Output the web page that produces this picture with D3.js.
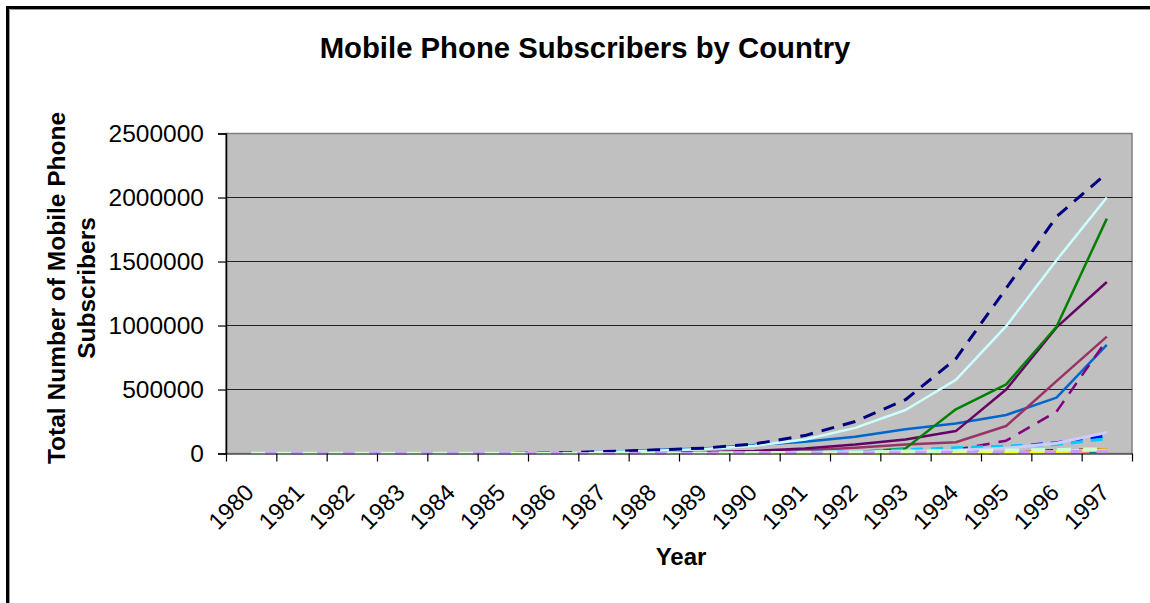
<!DOCTYPE html>
<meta charset="utf-8">
<style> /* set the CSS */

body { margin: 0; background: #fff; }

.line {
  fill: none;
  stroke-linejoin: round;
}

text { font-family: "Liberation Sans", Arial, sans-serif; fill: #000; }

</style>
<body>

<!-- load the d3.js library -->
<script src="https://d3js.org/d3.v7.min.js"></script>
<script>

// categories
var years = ["1980","1981","1982","1983","1984","1985","1986","1987","1988",
             "1989","1990","1991","1992","1993","1994","1995","1996","1997"];

// y tick labels
var yTicks = [0, 500000, 1000000, 1500000, 2000000, 2500000];

// series values, one per year
var navyDashed   = [0,0,0,0,0,0, 5000, 15000, 27000, 42000, 75000, 140000, 250000, 420000, 740000, 1290000, 1850000, 2190000];
var lightCyan    = [0,0,0,0,0,0, 4000, 12000, 22000, 35000, 60000, 110000, 200000, 340000, 575000, 995000, 1510000, 2000000];
var greenLine    = [0,0,0,0,0,0, 0, 0, 0, 0, 1000, 3000, 10000, 40000, 345000, 540000, 990000, 1835000];
var purpleLine   = [0,0,0,0,0,0, 0, 2000, 5000, 10000, 20000, 40000, 70000, 110000, 175000, 500000, 985000, 1340000];
var mauveLine    = [0,0,0,0,0,0, 0, 1000, 3000, 8000, 15000, 25000, 45000, 70000, 88000, 215000, 565000, 913000];
var blueLine     = [0,0,0,0,0,0, 3000, 12000, 27000, 40000, 66000, 92000, 131000, 189000, 235000, 301000, 436000, 848000];
var purpleDashed = [0,0,0,0,0,0, 0, 0, 0, 0, 1000, 2000, 5000, 10000, 30000, 100000, 327000, 887000];
var lavenderLine = [0,0,0,0,0,0, 0, 0, 1000, 2000, 5000, 8000, 12000, 18000, 25000, 42000, 80000, 165000];
var blueDashed   = [0,0,0,0,0,0, 0, 0, 0, 1000, 3000, 5000, 8000, 12000, 20000, 50000, 85000, 138000];
var skyDashed    = [0,0,0,0,0,0, 0, 0, 1000, 3000, 6000, 10000, 15000, 30000, 45000, 58000, 70000, 115000];
var paleGreen    = [0,0,0,0,0,0, 0, 0, 1000, 2000, 4000, 7000, 10000, 15000, 20000, 25000, 30000, 35000];
var lilacDashed  = [0,0,0,0,0,0, 0, 0, 0, 0, 1000, 2000, 3000, 5000, 8000, 10000, 14000, 18000];
var yellowLine   = [0,0,0,0,0,0, 0, 0, 0, 0, 0, 0, 0, 1000, 2000, 5000, 15000, 30000];
var salmonDashed = [0,0,0,0,0,0, 0, 0, 0, 0, 0, 500, 1000, 3000, 5000, 8000, 10000, 12000];
var darkRed      = [0,0,0,0,0,0, 0, 0, 0, 0, 0, 0, 0, 500, 1000, 3000, 25000, 30000];
var tealLine     = [0,0,0,0,0,0, 0, 0, 0, 0, 0, 0, 500, 1000, 2000, 4000, 6000, 8000];

// line styles (drawn in this order, last on top)
var seriesStyle = [
  {v: blueLine,     color: "#0066cc", dash: null,    w: 2.5},
  {v: mauveLine,    color: "#993366", dash: null,    w: 2.5},
  {v: purpleLine,   color: "#660066", dash: null,    w: 2.5},
  {v: greenLine,    color: "#008000", dash: null,    w: 2.5},
  {v: lightCyan,    color: "#ccffff", dash: null,    w: 2.5},
  {v: navyDashed,   color: "#000080", dash: "13,9",  w: 3},
  {v: purpleDashed, color: "#800080", dash: "13,9",  w: 2.5},
  {v: blueDashed,   color: "#0000ff", dash: "12,8",  w: 3},
  {v: skyDashed,    color: "#00ccff", dash: "12,8",  w: 3},
  {v: tealLine,     color: "#008080", dash: null,    w: 2},
  {v: darkRed,      color: "#800000", dash: "10,8",  w: 3},
  {v: salmonDashed, color: "#ff8080", dash: "10,8",  w: 3},
  {v: yellowLine,   color: "#ffff00", dash: null,    w: 3},
  {v: lavenderLine, color: "#ccccff", dash: null,    w: 3},
  {v: lilacDashed,  color: "#cc99ff", dash: "12,14", w: 3},
  {v: paleGreen,    color: "#ccffcc", dash: "14,12", w: 3.5}
];

var width = 1150, height = 603;
var plot = {left: 226, right: 1132, top: 133.5, bottom: 453.5};

var svg = d3.select("body").append("svg")
    .attr("width", width)
    .attr("height", height);

// outer frame (left and top edges visible)
svg.append("path")
    .attr("d", "M7.5," + height + "V7.5H" + width)
    .attr("fill", "none")
    .attr("stroke", "#000")
    .attr("stroke-width", 3);
svg.append("path")
    .attr("d", "M9.5," + height + "V9.5H" + width)
    .attr("fill", "none")
    .attr("stroke", "#999")
    .attr("stroke-width", 1);

// scales
var x = d3.scaleBand().domain(years).range([plot.left, plot.right]).padding(0);
var xTick = d3.scaleLinear().domain([0, years.length]).range([plot.left, plot.right]);
var y = d3.scaleLinear().domain([0, 2500000]).range([plot.bottom, plot.top]);

// plot area
svg.append("rect")
    .attr("x", plot.left)
    .attr("y", plot.top)
    .attr("width", plot.right - plot.left)
    .attr("height", plot.bottom - plot.top)
    .attr("fill", "#c0c0c0")
    .attr("stroke", "#808080")
    .attr("stroke-width", 1.5);

// gridlines
svg.append("g")
    .selectAll("line")
    .data(yTicks.slice(1, -1))
    .join("line")
    .attr("x1", plot.left)
    .attr("x2", plot.right)
    .attr("y1", function(d) { return y(d); })
    .attr("y2", function(d) { return y(d); })
    .attr("stroke", "#222")
    .attr("stroke-width", 1.2);

// lines
var valueline = d3.line()
    .x(function(d, i) { return x(years[i]) + x.bandwidth() / 2; })
    .y(function(d) { return y(d); });

seriesStyle.forEach(function(s) {
  svg.append("path")
      .datum(s.v)
      .attr("class", "line")
      .attr("stroke", s.color)
      .attr("stroke-width", s.w)
      .attr("stroke-dasharray", s.dash)
      .attr("stroke-dashoffset", s.color == "#cc99ff" ? 13 : 0)
      .attr("d", valueline);
});

// Y axis
var yAxis = svg.append("g")
    .attr("transform", "translate(" + plot.left + ",0)")
    .call(d3.axisLeft(y).tickValues(yTicks).tickFormat(d3.format("d"))
      .tickSize(8).tickPadding(14));
yAxis.select(".domain").attr("stroke", "#000").attr("stroke-width", 1.5);
yAxis.selectAll(".tick line").attr("stroke", "#000").attr("stroke-width", 1.2);
yAxis.selectAll("text")
    .style("font-size", "24.5px")
    .style("font-family", "'Liberation Sans', Arial, sans-serif")
    .attr("fill", "#000");

// X axis ticks (between categories)
var xAxis = svg.append("g")
    .attr("transform", "translate(0," + plot.bottom + ")")
    .call(d3.axisBottom(xTick).tickValues(d3.range(years.length + 1))
      .tickFormat("").tickSize(8).tickSizeOuter(0));
xAxis.select(".domain").attr("stroke", "#555").attr("stroke-width", 1.5);
xAxis.selectAll(".tick line").attr("stroke", "#000").attr("stroke-width", 1.2);

// X labels, rotated
svg.append("g")
    .selectAll("text")
    .data(years)
    .join("text")
    .attr("text-anchor", "end")
    .attr("transform", function(d) {
      return "translate(" + (x(d) + x.bandwidth() / 2 + 4) + ",494) rotate(-45)";
    })
    .style("font-size", "23.5px")
    .text(function(d) { return d; });

// title
svg.append("text")
    .attr("x", 585)
    .attr("y", 58)
    .attr("text-anchor", "middle")
    .style("font-size", "29.3px")
    .style("font-weight", "bold")
    .text("Mobile Phone Subscribers by Country");

// x axis title
svg.append("text")
    .attr("x", 681)
    .attr("y", 565)
    .attr("text-anchor", "middle")
    .style("font-size", "24px")
    .style("font-weight", "bold")
    .text("Year");

// y axis title, two lines
var yTitle = svg.append("text")
    .attr("transform", "translate(0,288) rotate(-90)")
    .attr("text-anchor", "middle")
    .style("font-size", "24.5px")
    .style("font-weight", "bold");
yTitle.append("tspan").attr("x", 0).attr("y", 65).text("Total Number of Mobile Phone");
yTitle.append("tspan").attr("x", 0).attr("y", 95).text("Subscribers");

</script>
</body>
